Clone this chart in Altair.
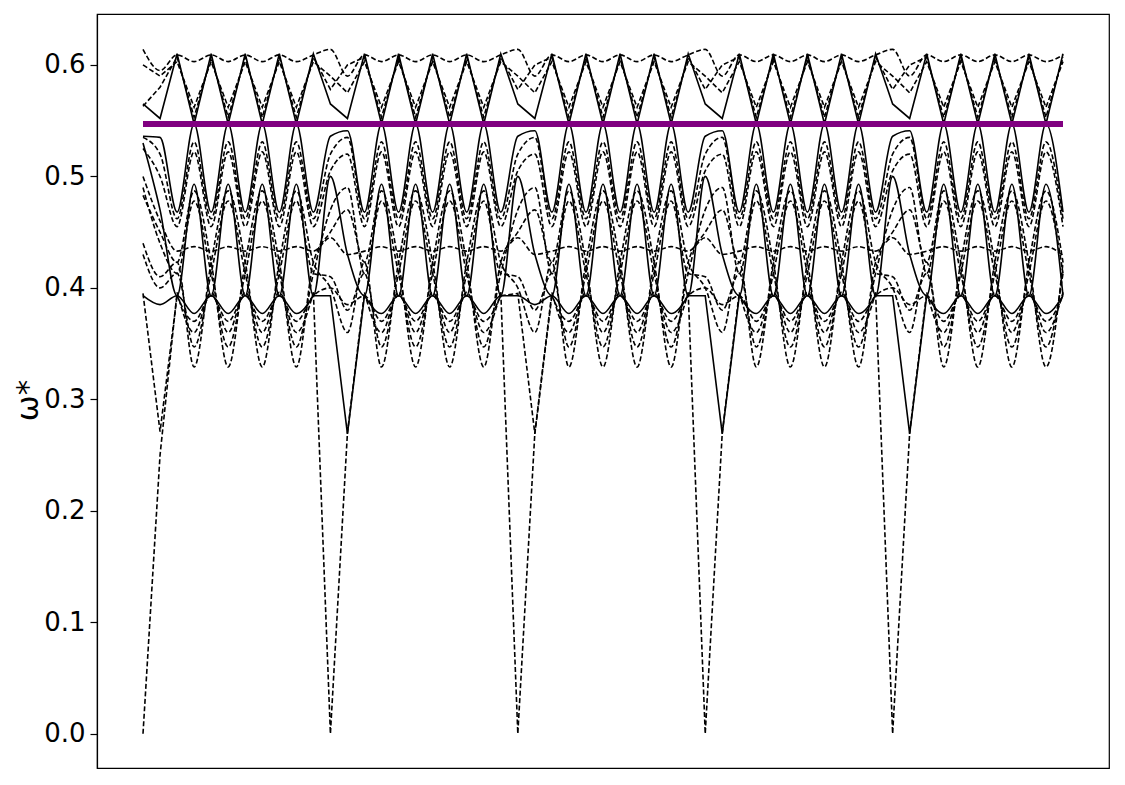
import altair as alt
import pandas as pd

# x positions: half-period grid index (0 .. 54)
XS = list(range(55))

# ---- band values (omega*) ----
S1 = [0.565, 0.552, 0.610, 0.547, 0.610, 0.547, 0.610, 0.547, 0.610, 0.547, 0.610,
      0.565, 0.552, 0.610, 0.547, 0.610, 0.547, 0.610, 0.547, 0.610, 0.547, 0.610,
      0.565, 0.552, 0.610, 0.547, 0.610, 0.547, 0.610, 0.547, 0.610, 0.547, 0.610,
      0.565, 0.552, 0.610, 0.547, 0.610, 0.547, 0.610, 0.547, 0.610, 0.547, 0.610,
      0.565, 0.552, 0.610, 0.547, 0.610, 0.547, 0.610, 0.547, 0.610, 0.547, 0.610]
S2 = [0.536, 0.535, 0.468, 0.547, 0.468, 0.547, 0.468, 0.547, 0.468, 0.547, 0.468,
      0.536, 0.541, 0.468, 0.547, 0.468, 0.547, 0.468, 0.547, 0.468, 0.547, 0.468,
      0.536, 0.541, 0.468, 0.547, 0.468, 0.547, 0.468, 0.547, 0.468, 0.547, 0.468,
      0.536, 0.541, 0.468, 0.547, 0.468, 0.547, 0.468, 0.547, 0.468, 0.547, 0.468,
      0.536, 0.541, 0.468, 0.547, 0.468, 0.547, 0.468, 0.547, 0.468, 0.547, 0.468]
S3 = [0.530, 0.470, 0.393, 0.493, 0.393, 0.493, 0.393, 0.493, 0.393, 0.493, 0.393,
      0.500, 0.430, 0.393, 0.493, 0.393, 0.493, 0.393, 0.493, 0.393, 0.493, 0.393,
      0.500, 0.430, 0.393, 0.493, 0.393, 0.493, 0.393, 0.493, 0.393, 0.493, 0.393,
      0.500, 0.430, 0.393, 0.493, 0.393, 0.493, 0.393, 0.493, 0.393, 0.493, 0.393,
      0.500, 0.430, 0.393, 0.493, 0.393, 0.493, 0.393, 0.493, 0.393, 0.493, 0.393]
S4 = [0.393, 0.385, 0.393, 0.377, 0.393, 0.377, 0.393, 0.377, 0.393, 0.377, 0.393,
      0.393, 0.269, 0.393, 0.377, 0.393, 0.377, 0.393, 0.377, 0.393, 0.377, 0.393,
      0.393, 0.385, 0.393, 0.377, 0.393, 0.377, 0.393, 0.377, 0.393, 0.377, 0.393,
      0.393, 0.269, 0.393, 0.377, 0.393, 0.377, 0.393, 0.377, 0.393, 0.377, 0.393,
      0.393, 0.269, 0.393, 0.377, 0.393, 0.377, 0.393, 0.377, 0.393, 0.377, 0.393]

D1 = [0.614, 0.595, 0.609, 0.603, 0.609, 0.603, 0.609, 0.603, 0.609, 0.603, 0.609,
      0.614, 0.590, 0.609, 0.603, 0.609, 0.603, 0.609, 0.603, 0.609, 0.603, 0.609,
      0.614, 0.590, 0.609, 0.603, 0.609, 0.603, 0.609, 0.603, 0.609, 0.603, 0.609,
      0.614, 0.590, 0.609, 0.603, 0.609, 0.603, 0.609, 0.603, 0.609, 0.603, 0.609,
      0.614, 0.590, 0.609, 0.603, 0.609, 0.603, 0.609, 0.603, 0.609, 0.603, 0.609]
D2 = [0.563, 0.580, 0.607, 0.553, 0.607, 0.553, 0.607, 0.553, 0.607, 0.553, 0.607,
      0.578, 0.600, 0.607, 0.553, 0.607, 0.553, 0.607, 0.553, 0.607, 0.553, 0.607,
      0.578, 0.600, 0.607, 0.553, 0.607, 0.553, 0.607, 0.553, 0.607, 0.553, 0.607,
      0.578, 0.600, 0.607, 0.553, 0.607, 0.553, 0.607, 0.553, 0.607, 0.553, 0.607,
      0.578, 0.600, 0.607, 0.553, 0.607, 0.553, 0.607, 0.553, 0.607, 0.553, 0.607]
D3 = [0.600, 0.590, 0.603, 0.562, 0.603, 0.562, 0.603, 0.562, 0.603, 0.562, 0.603,
      0.590, 0.575, 0.603, 0.562, 0.603, 0.562, 0.603, 0.562, 0.603, 0.562, 0.603,
      0.590, 0.575, 0.603, 0.562, 0.603, 0.562, 0.603, 0.562, 0.603, 0.562, 0.603,
      0.590, 0.575, 0.603, 0.562, 0.603, 0.562, 0.603, 0.562, 0.603, 0.562, 0.603,
      0.590, 0.575, 0.603, 0.562, 0.603, 0.562, 0.603, 0.562, 0.603, 0.562, 0.603]
D4 = [0.535, 0.520, 0.462, 0.531, 0.462, 0.531, 0.462, 0.531, 0.462, 0.531, 0.462,
      0.520, 0.535, 0.462, 0.531, 0.462, 0.531, 0.462, 0.531, 0.462, 0.531, 0.462,
      0.520, 0.535, 0.462, 0.531, 0.462, 0.531, 0.462, 0.531, 0.462, 0.531, 0.462,
      0.520, 0.535, 0.462, 0.531, 0.462, 0.531, 0.462, 0.531, 0.462, 0.531, 0.462,
      0.520, 0.535, 0.462, 0.531, 0.462, 0.531, 0.462, 0.531, 0.462, 0.531, 0.462]
D5 = [0.525, 0.500, 0.455, 0.522, 0.455, 0.522, 0.455, 0.522, 0.455, 0.522, 0.455,
      0.505, 0.520, 0.455, 0.522, 0.455, 0.522, 0.455, 0.522, 0.455, 0.522, 0.455,
      0.505, 0.520, 0.455, 0.522, 0.455, 0.522, 0.455, 0.522, 0.455, 0.522, 0.455,
      0.505, 0.520, 0.455, 0.522, 0.455, 0.522, 0.455, 0.522, 0.455, 0.522, 0.455,
      0.505, 0.520, 0.455, 0.522, 0.455, 0.522, 0.455, 0.522, 0.455, 0.522, 0.455]
D6 = [0.500, 0.460, 0.433, 0.437, 0.433, 0.437, 0.433, 0.437, 0.433, 0.437, 0.433,
      0.445, 0.430, 0.433, 0.437, 0.433, 0.437, 0.433, 0.437, 0.433, 0.437, 0.433,
      0.445, 0.430, 0.433, 0.437, 0.433, 0.437, 0.433, 0.437, 0.433, 0.437, 0.433,
      0.445, 0.430, 0.433, 0.437, 0.433, 0.437, 0.433, 0.437, 0.433, 0.437, 0.433,
      0.445, 0.430, 0.433, 0.437, 0.433, 0.437, 0.433, 0.437, 0.433, 0.437, 0.429]
D7 = [0.483, 0.450, 0.423, 0.487, 0.423, 0.329, 0.423, 0.487, 0.423, 0.329, 0.423,
      0.450, 0.470, 0.423, 0.487, 0.423, 0.329, 0.423, 0.487, 0.423, 0.329, 0.423,
      0.450, 0.470, 0.423, 0.487, 0.423, 0.329, 0.423, 0.487, 0.423, 0.329, 0.423,
      0.450, 0.470, 0.423, 0.487, 0.423, 0.329, 0.423, 0.487, 0.423, 0.329, 0.423,
      0.450, 0.470, 0.423, 0.487, 0.423, 0.329, 0.423, 0.487, 0.423, 0.329, 0.423]
D8 = [0.440, 0.410, 0.423, 0.329, 0.423, 0.487, 0.423, 0.329, 0.423, 0.487, 0.423,
      0.400, 0.360, 0.423, 0.329, 0.423, 0.487, 0.423, 0.329, 0.423, 0.487, 0.423,
      0.400, 0.360, 0.423, 0.329, 0.423, 0.487, 0.423, 0.329, 0.423, 0.487, 0.423,
      0.400, 0.360, 0.423, 0.329, 0.423, 0.487, 0.423, 0.329, 0.423, 0.487, 0.423,
      0.400, 0.360, 0.423, 0.329, 0.423, 0.487, 0.423, 0.329, 0.423, 0.487, 0.423]
D9 = [0.490, 0.440, 0.413, 0.478, 0.413, 0.347, 0.413, 0.478, 0.413, 0.347, 0.413,
      0.470, 0.490, 0.413, 0.478, 0.413, 0.347, 0.413, 0.478, 0.413, 0.347, 0.413,
      0.470, 0.490, 0.413, 0.478, 0.413, 0.347, 0.413, 0.478, 0.413, 0.347, 0.413,
      0.470, 0.490, 0.413, 0.478, 0.413, 0.347, 0.413, 0.478, 0.413, 0.347, 0.413,
      0.470, 0.490, 0.413, 0.478, 0.413, 0.347, 0.413, 0.478, 0.413, 0.347, 0.413]
D10 = [0.430, 0.400, 0.413, 0.347, 0.413, 0.478, 0.413, 0.347, 0.413, 0.478, 0.413,
       0.410, 0.380, 0.413, 0.347, 0.413, 0.478, 0.413, 0.347, 0.413, 0.478, 0.413,
       0.410, 0.380, 0.413, 0.347, 0.413, 0.478, 0.413, 0.347, 0.413, 0.478, 0.413,
       0.410, 0.380, 0.413, 0.347, 0.413, 0.478, 0.413, 0.347, 0.413, 0.478, 0.413,
       0.410, 0.380, 0.413, 0.347, 0.413, 0.478, 0.413, 0.347, 0.413, 0.478, 0.413]
D11 = [0.395, 0.271, 0.393, 0.370, 0.393, 0.370, 0.393, 0.370, 0.393, 0.370, 0.393,
       0.400, 0.385, 0.393, 0.370, 0.393, 0.370, 0.393, 0.370, 0.393, 0.370, 0.393,
       0.395, 0.269, 0.393, 0.370, 0.393, 0.370, 0.393, 0.370, 0.393, 0.370, 0.393,
       0.400, 0.385, 0.393, 0.370, 0.393, 0.370, 0.393, 0.370, 0.393, 0.370, 0.393,
       0.400, 0.385, 0.393, 0.370, 0.393, 0.370, 0.393, 0.370, 0.393, 0.370, 0.393]
D12 = [0.000, 0.250, 0.396, 0.360, 0.396, 0.360, 0.396, 0.360, 0.396, 0.360, 0.396,
       0.000, 0.270, 0.396, 0.360, 0.396, 0.360, 0.396, 0.360, 0.396, 0.360, 0.396,
       0.000, 0.270, 0.396, 0.360, 0.396, 0.360, 0.396, 0.360, 0.396, 0.360, 0.396,
       0.000, 0.270, 0.396, 0.360, 0.396, 0.360, 0.396, 0.360, 0.396, 0.360, 0.396,
       0.000, 0.270, 0.396, 0.360, 0.396, 0.360, 0.396, 0.360, 0.396, 0.360, 0.396]

DIRAC_Y = 0.547
Y_TICKS = [0.0, 0.1, 0.2, 0.3, 0.4, 0.5, 0.6]

# band -> (values, style, default interpolation, index windows drawn with straight segments)
BANDS = {
    "S1": (S1, "solid", "linear", []),
    "S2": (S2, "solid", "monotone", []),
    "S3": (S3, "solid", "monotone", []),
    "S4": (S4, "solid", "monotone", [(10, 13), (32, 35), (43, 46)]),
    "D1": (D1, "dashed", "monotone", []),
    "D2": (D2, "dashed", "linear", []),
    "D3": (D3, "dashed", "linear", []),
    "D4": (D4, "dashed", "monotone", []),
    "D5": (D5, "dashed", "monotone", []),
    "D6": (D6, "dashed", "monotone", []),
    "D7": (D7, "dashed", "monotone", []),
    "D8": (D8, "dashed", "monotone", []),
    "D9": (D9, "dashed", "monotone", []),
    "D10": (D10, "dashed", "monotone", []),
    "D11": (D11, "dashed", "monotone", [(0, 2), (21, 24)]),
    "D12": (D12, "dashed", "monotone", [(0, 2), (10, 13), (21, 24), (32, 35), (43, 46)]),
}

rows = []
for name, (vals, style, interp, windows) in BANDS.items():
    segs = []
    start = 0
    for a, b in windows:
        if a > start:
            segs.append((interp, start, a))
        segs.append(("linear", a, b))
        start = b
    if start < len(vals) - 1:
        segs.append((interp, start, len(vals) - 1))
    for k, (ip, a, b) in enumerate(segs):
        for i in range(a, b + 1):
            rows.append({"style": style, "interp": ip, "seg": f"{name}_{k}",
                         "x": XS[i], "w": vals[i]})
df = pd.DataFrame(rows)

xscale = alt.Scale(domain=[-2.7, 56.7], nice=False, zero=False)
yscale = alt.Scale(domain=[-0.0307, 0.6457], nice=False, zero=False)

yaxis = alt.Axis(
    values=Y_TICKS, format=".1f", title="ω*", grid=False,
    labelFont="DejaVu Sans", labelFontSize=26, labelColor="black",
    labelPadding=5, tickSize=7, tickWidth=1.2, tickColor="black",
    domainColor="black", domainWidth=1.2,
    titleFont="DejaVu Sans", titleFontSize=31, titleFontWeight="normal",
    titleColor="black", titleAngle=-90, titleX=-60, titleY=386,
    titleAlign="center", titleBaseline="alphabetic",
)


def layer(style, interp):
    kw = dict(color="black", strokeWidth=1.6, interpolate=interp)
    if style == "dashed":
        kw["strokeDash"] = [5, 2.5]
    sub = df[(df["style"] == style) & (df["interp"] == interp)]
    return alt.Chart(sub).mark_line(**kw).encode(
        x=alt.X("x:Q", scale=xscale, axis=None),
        y=alt.Y("w:Q", scale=yscale, axis=yaxis),
        detail="seg:N",
        order="x:Q",
    )


lines = [
    layer("dashed", "monotone"),
    layer("dashed", "linear"),
    layer("solid", "monotone"),
    layer("solid", "linear"),
]

dirac = alt.Chart(pd.DataFrame({"x0": [XS[0]], "x1": [XS[-1]], "w": [DIRAC_Y]})).mark_rule(
    color="purple", strokeWidth=6
).encode(
    x=alt.X("x0:Q", scale=xscale, axis=None),
    x2="x1:Q",
    y=alt.Y("w:Q", scale=yscale, axis=yaxis),
)

chart = alt.layer(*lines, dirac).properties(
    width=1012, height=754,
    autosize=alt.AutoSizeParams(type="none"),
    padding={"left": 89, "top": 6, "right": 8, "bottom": 8},
).configure(background="white").configure_view(stroke="black", strokeWidth=1.2)

chart.save("out.html", embed_options={"renderer": "svg", "actions": False})
